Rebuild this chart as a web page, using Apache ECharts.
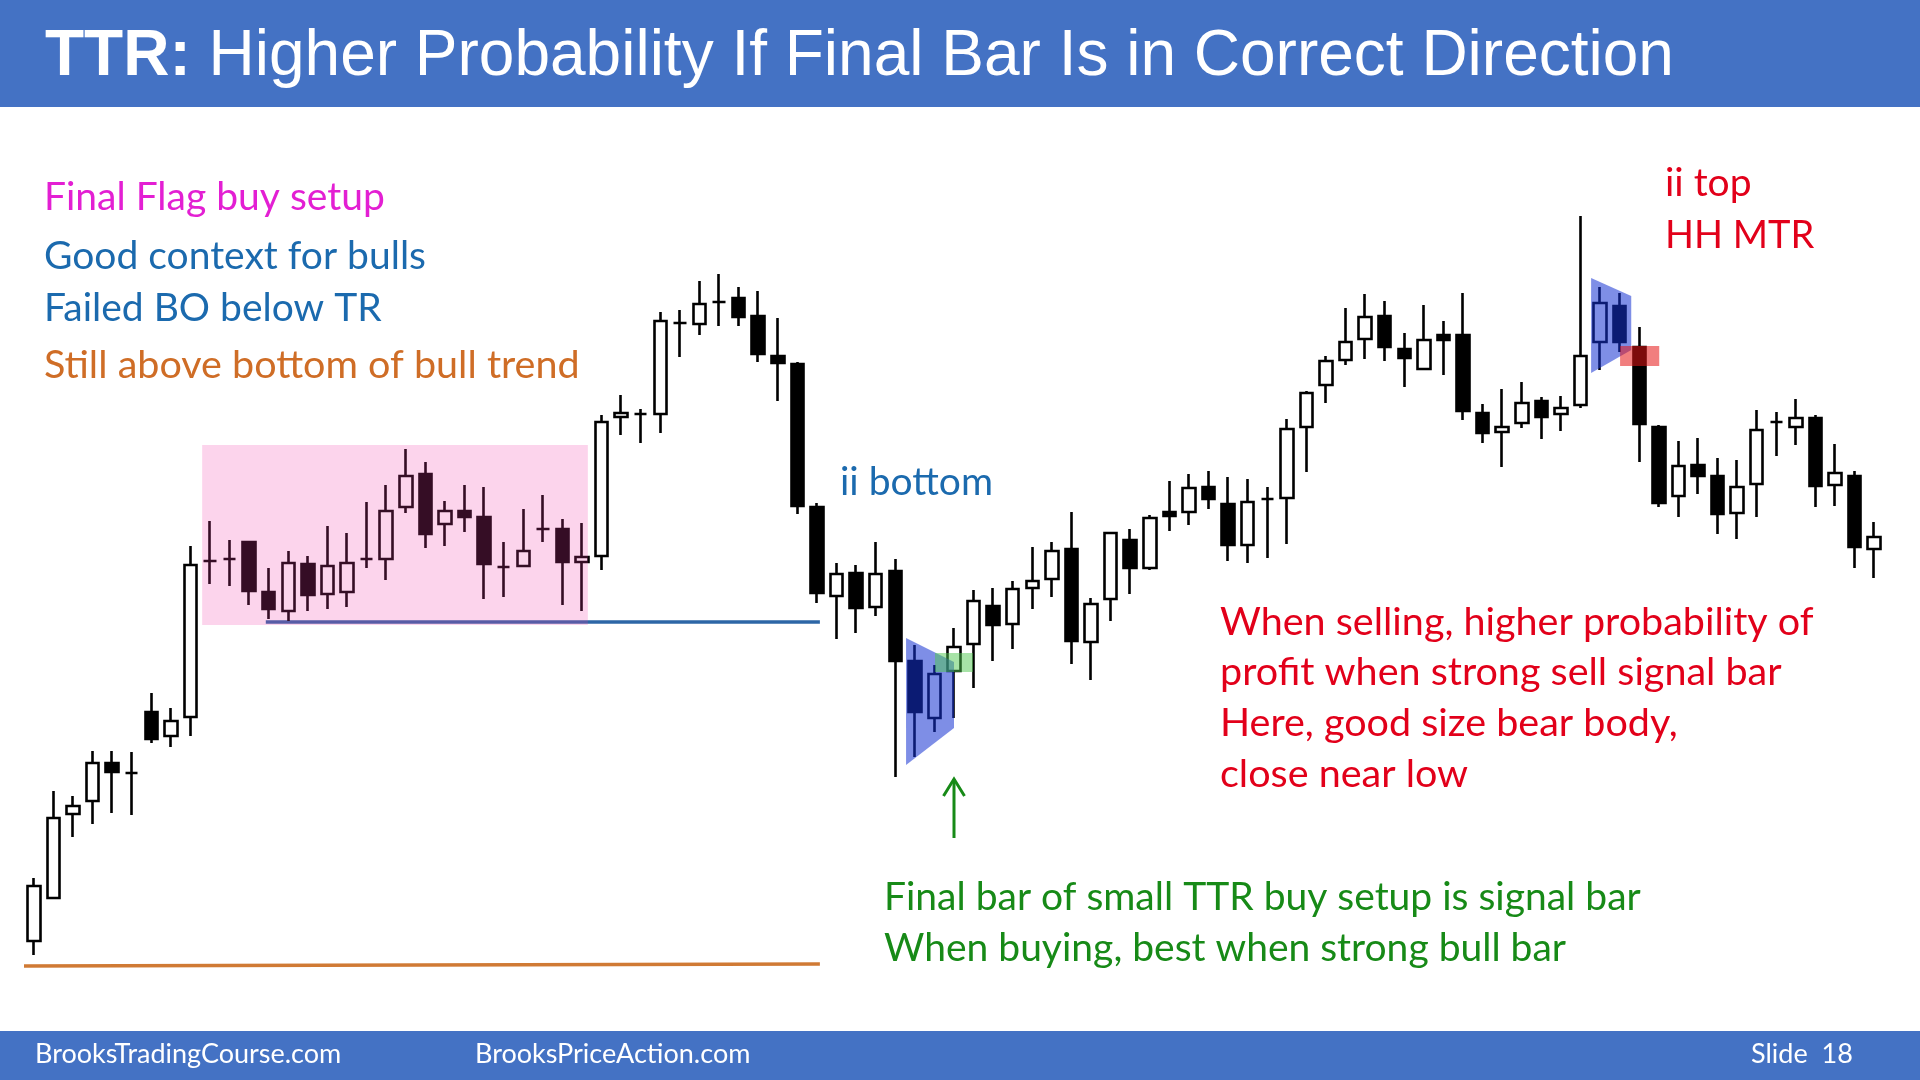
<!DOCTYPE html>
<html>
<head>
<meta charset="utf-8">
<title>TTR: Higher Probability If Final Bar Is in Correct Direction</title>
<script src="https://cdn.jsdelivr.net/npm/echarts@6/dist/echarts.min.js"></script>
<style>
  html, body { margin: 0; padding: 0; background: #fff; }
  #chart { width: 1920px; height: 1080px; }
</style>
</head>
<body>
<div id="chart"></div>
<script>
// price bars, [open, close, low, high]
const bars = [
  [8.9, 14.4, 7.5, 15.2], [13.2, 21.2, 13.1, 23.9], [21.6, 22.4, 19.3, 23.4], [22.9, 26.7, 20.6, 27.9],
  [26.7, 25.8, 21.7, 27.9], [25.7, 25.7, 21.5, 27.8], [31.8, 29.1, 28.7, 33.7], [29.4, 30.9, 28.3, 32.2],
  [31.3, 46.5, 29.4, 48.4], [46.9, 46.9, 44.6, 50.9], [47.1, 47.1, 44.4, 49.0], [48.8, 43.9, 42.5, 48.8],
  [43.8, 42.1, 41.1, 46.2], [41.9, 46.7, 40.9, 47.9], [46.6, 43.5, 41.9, 47.4], [43.6, 46.4, 42.1, 50.4],
  [43.8, 46.7, 42.3, 49.7], [47.1, 47.1, 46.2, 52.8], [47.1, 51.9, 45.0, 54.5], [52.3, 55.4, 51.7, 58.1],
  [55.6, 49.6, 48.2, 56.8], [50.6, 51.9, 48.4, 52.9], [51.9, 51.3, 49.8, 54.5], [51.3, 46.6, 43.1, 54.3],
  [46.3, 46.3, 43.3, 48.8], [46.4, 47.9, 46.3, 52.1], [50.1, 50.1, 48.8, 53.5], [50.1, 46.8, 42.5, 51.1],
  [46.8, 47.3, 41.9, 50.7], [47.4, 60.8, 46.0, 61.5], [61.3, 61.7, 59.5, 63.5], [61.6, 61.6, 58.7, 62.1],
  [61.6, 70.9, 59.7, 71.8], [70.7, 70.7, 67.3, 72.0], [70.6, 72.6, 69.5, 74.9], [72.8, 72.8, 70.4, 75.6],
  [73.2, 71.3, 70.4, 74.3], [71.4, 67.6, 66.8, 73.9], [67.4, 66.7, 62.9, 71.2], [66.6, 52.4, 51.6, 66.8],
  [52.3, 43.7, 42.7, 52.7], [43.4, 45.6, 39.1, 46.7], [45.7, 42.2, 39.7, 46.5], [42.3, 45.6, 41.4, 48.8],
  [45.9, 36.9, 25.3, 47.1], [36.9, 31.8, 27.3, 38.5], [31.2, 35.6, 29.8, 36.5], [35.9, 38.3, 31.2, 40.2],
  [38.6, 42.9, 34.2, 44.0], [42.4, 40.5, 36.9, 44.2], [40.6, 44.1, 38.1, 44.9], [44.2, 44.9, 42.1, 48.3],
  [45.1, 47.9, 43.3, 48.8], [48.1, 38.9, 36.6, 51.8], [38.8, 42.6, 35.0, 43.2], [43.1, 49.7, 40.9, 49.8],
  [49.0, 46.2, 43.6, 50.1], [46.2, 51.2, 46.0, 51.5], [51.8, 51.4, 49.9, 54.9], [51.8, 54.2, 50.5, 55.6],
  [54.3, 53.1, 52.1, 55.9], [52.6, 48.5, 46.9, 55.3], [48.5, 52.8, 46.7, 55.1], [53.1, 53.1, 47.2, 54.3],
  [53.2, 60.1, 48.6, 61.1], [60.3, 63.7, 55.8, 63.9], [64.5, 66.9, 62.7, 67.4], [67.0, 68.8, 66.5, 72.2],
  [69.1, 71.3, 67.1, 73.6], [71.4, 68.3, 66.9, 72.9], [68.1, 67.2, 64.3, 69.7], [66.1, 69.0, 66.0, 72.5],
  [69.5, 69.0, 65.5, 70.9], [69.5, 61.9, 61.0, 73.7], [61.7, 59.7, 58.7, 62.6], [59.8, 60.3, 56.3, 64.1],
  [60.7, 62.7, 60.2, 64.8], [62.9, 61.3, 59.1, 63.3], [61.6, 62.2, 59.9, 63.4], [62.5, 67.4, 62.2, 81.4],
  [68.8, 72.7, 66.0, 74.3], [72.4, 68.8, 67.8, 73.7], [68.3, 60.6, 56.8, 70.3], [60.3, 52.7, 52.3, 60.5],
  [53.4, 56.4, 51.3, 58.9], [56.5, 55.4, 53.6, 59.2], [55.4, 51.6, 49.6, 57.2], [51.7, 54.3, 49.1, 57.0],
  [54.6, 60.0, 51.3, 62.0], [60.8, 60.8, 57.4, 61.8], [60.3, 61.2, 58.5, 63.1], [61.2, 54.4, 52.3, 61.5],
  [54.5, 55.7, 52.4, 58.6], [55.4, 48.3, 46.2, 55.9], [48.1, 49.3, 45.2, 50.8]
];
const barLabels = bars.map((_, i) => String(i + 1));

// annotations, [bar index, price]
const rangeBox = [[8.6, 58.5], [28.3, 58.5], [28.3, 40.5], [8.6, 40.5]];
const rangeLow = [[11.85, 40.8], [40.15, 40.8]];
const trendLow = [[-0.5, 6.4], [40.15, 6.6]];
const buyTriangle = [[44.55, 39.2], [47.0, 36.8], [47.0, 30.2], [44.55, 26.5]];
const buySignal = [[46.03, 37.7], [47.97, 37.7], [47.97, 35.8], [46.03, 35.8]];
const sellTriangle = [[79.54, 75.2], [81.59, 73.4], [81.59, 68.0], [79.54, 65.7]];
const sellSignal = [[81.02, 68.4], [83.02, 68.4], [83.02, 66.4], [81.02, 66.4]];
const buyArrow = [[47.0, 19.2], [47.0, 25.2]];

const BLUE = '#4472C4';
const TXT_BLUE = '#1B6AAE';
const RED = '#E2001A';
const GREEN = '#178A17';
const bodyFont = 'Lato, "Noto Sans", sans-serif';

function zone(points, fill) {
  return {
    type: 'custom', xAxisIndex: 1, yAxisIndex: 0, z: 5, silent: true,
    data: [points[0]],
    renderItem: (params, api) => ({
      type: 'polygon',
      shape: { points: points.map(p => api.coord(p)) },
      style: { fill: fill }
    })
  };
}

function hline(points, color, width) {
  return {
    type: 'line', xAxisIndex: 1, yAxisIndex: 0, z: 3, silent: true,
    data: points, symbol: 'none',
    lineStyle: { color: color, width: width }
  };
}

function label(text, x, y, color, size, family) {
  return {
    type: 'text', x: x, y: y, z: 100, silent: true,
    style: {
      text: text, fill: color,
      font: size + 'px ' + (family || bodyFont),
      textAlign: 'left', textVerticalAlign: 'middle', verticalAlign: 'middle'
    }
  };
}

const chart = echarts.init(document.getElementById('chart'), null, { renderer: 'canvas' });

chart.setOption({
  animation: false,
  backgroundColor: '#ffffff',
  grid: { left: 24, right: 36, top: 110, bottom: 50 },
  xAxis: [
    { type: 'category', data: barLabels, show: false, boundaryGap: true },
    { type: 'value', min: -0.5, max: bars.length - 0.5, show: false }
  ],
  yAxis: { type: 'value', min: 0, max: 92, show: false },
  series: [
    hline(rangeLow, '#2D66A6', 3.5),
    hline(trendLow, '#D07A34', 3.5),
    {
      type: 'candlestick', data: bars, barWidth: 13, silent: true, z: 4,
      itemStyle: {
        color: '#ffffff', color0: '#000000',
        borderColor: '#000000', borderColor0: '#000000', borderColorDoji: '#000000',
        borderWidth: 2.6
      }
    },
    zone(rangeBox, 'rgba(240,60,170,0.22)'),
    zone(buyTriangle, 'rgba(20,50,210,0.55)'),
    zone(buySignal, 'rgba(80,200,80,0.5)'),
    zone(sellTriangle, 'rgba(20,50,210,0.55)'),
    zone(sellSignal, 'rgba(230,20,20,0.55)'),
    {
      type: 'custom', xAxisIndex: 1, yAxisIndex: 0, z: 6, silent: true,
      data: [buyArrow[1]],
      renderItem: (params, api) => {
        const tail = api.coord(buyArrow[0]);
        const tip = api.coord(buyArrow[1]);
        return {
          type: 'group',
          children: [
            { type: 'line', shape: { x1: tail[0], y1: tail[1], x2: tip[0], y2: tip[1] + 1 },
              style: { stroke: GREEN, lineWidth: 3 } },
            { type: 'polyline',
              shape: { points: [[tip[0] - 10.5, tip[1] + 18], [tip[0], tip[1] + 1], [tip[0] + 10.5, tip[1] + 18]] },
              style: { stroke: GREEN, lineWidth: 3, fill: null } }
          ]
        };
      }
    }
  ],
  graphic: [
    { type: 'rect', z: 50, silent: true, shape: { x: 0, y: 0, width: 1920, height: 107 }, style: { fill: BLUE } },
    { type: 'rect', z: 50, silent: true, shape: { x: 0, y: 1031, width: 1920, height: 49 }, style: { fill: BLUE } },
    {
      type: 'text', x: 45, y: 57, z: 100, silent: true,
      style: {
        text: '{b|TTR:} Higher Probability If Final Bar Is in Correct Direction',
        fill: '#ffffff', font: '64px "Liberation Sans", Arial, sans-serif',
        textVerticalAlign: 'middle', verticalAlign: 'middle',
        rich: { b: { fill: '#ffffff', fontWeight: 'bold', fontSize: 64, fontFamily: '"Liberation Sans", Arial, sans-serif' } }
      }
    },
    label('Final Flag buy setup', 44, 197, '#E31FD3', 39),
    label('Good context for bulls', 44, 256, TXT_BLUE, 39),
    label('Failed BO below TR', 44, 308, TXT_BLUE, 39),
    label('Still above bottom of bull trend', 44, 365, '#CF6D26', 39.5),
    label('ii bottom', 840, 482, TXT_BLUE, 39),
    label('ii top', 1665, 183, RED, 39),
    label('HH MTR', 1665, 236, RED, 38),
    label('When selling, higher probability of', 1220, 622, RED, 39.5),
    label('profit when strong sell signal bar', 1220, 672, RED, 39.5),
    label('Here, good size bear body,', 1220, 723, RED, 39.5),
    label('close near low', 1220, 774, RED, 39.5),
    label('Final bar of small TTR buy setup is signal bar', 884, 897, GREEN, 39),
    label('When buying, best when strong bull bar', 884, 948, GREEN, 39),
    label('BrooksTradingCourse.com', 35, 1054, '#ffffff', 27),
    label('BrooksPriceAction.com', 475, 1054, '#ffffff', 27),
    label('Slide  18', 1751, 1054, '#ffffff', 27)
  ]
});
</script>
</body>
</html>
